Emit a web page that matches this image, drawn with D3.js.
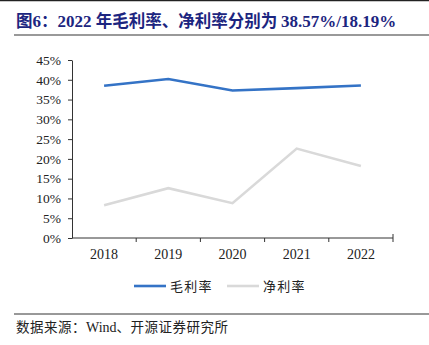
<!DOCTYPE html>
<html><head><meta charset="utf-8">
<script src="https://cdn.jsdelivr.net/npm/d3@7"></script>
<style>body{margin:0;background:#fff;} svg{display:block;}</style>
</head><body>
<svg id="c" width="429" height="345"></svg>
<script>
const years = ["2018","2019","2020","2021","2022"];
const grossMargin = [38.5, 40.2, 37.3, 37.9, 38.57];
const netMargin = [8.3, 12.6, 8.8, 22.6, 18.19];
const yTicks = [0,5,10,15,20,25,30,35,40,45];
const seriesNames = ["毛利率","净利率"];
const seriesColors = ["#3473C6","#D9D9D9"];

const svg = d3.select("#c");
const serif = "'Liberation Serif','Times New Roman',serif";
const cjk = "'Noto Sans CJK SC',sans-serif";

// top border and title
svg.append("line").attr("x1",0).attr("x2",429).attr("y1",0.5).attr("y2",0.5).attr("stroke","#222").attr("stroke-width",1.5);
svg.append("line").attr("x1",14).attr("x2",429).attr("y1",35).attr("y2",35).attr("stroke","#999").attr("stroke-width",2);
const title = svg.append("text").attr("x",16).attr("y",27).attr("fill","#1C2580").attr("font-weight","bold").attr("font-size",16.5);
title.append("tspan").attr("font-family",cjk).text("图");
title.append("tspan").attr("font-family",serif).attr("font-size",17).text("6");
title.append("tspan").attr("font-family",cjk).text("：");
title.append("tspan").attr("font-family",serif).attr("font-size",17).text("2022 ");
title.append("tspan").attr("font-family",cjk).text("年毛利率、净利率分别为 ");
title.append("tspan").attr("font-family",serif).attr("font-size",17).text("38.57%/18.19%");

const x = d3.scaleBand().domain(years).range([72,393]);
const y = d3.scaleLinear().domain([0,45]).range([238,60]);

const yAxis = svg.append("g").attr("transform","translate(72,0)")
  .call(d3.axisLeft(y).tickValues(yTicks).tickFormat(d=>d+"%").tickSize(4).tickSizeOuter(0));
const xAxis = svg.append("g").attr("transform","translate(0,238)")
  .call(d3.axisBottom(x).tickSize(4).tickSizeOuter(4));
xAxis.selectAll(".tick line").attr("transform", `translate(${x.bandwidth()/2},0)`);
[yAxis,xAxis].forEach(a=>{
  a.selectAll("path,line").attr("stroke","#333");
  a.selectAll("text").attr("font-family",serif).attr("font-size",13.5).attr("fill","#222");
});
yAxis.selectAll("text").attr("x",-11);
xAxis.selectAll("text").attr("y",11).attr("font-size",14);
xAxis.select(".domain").attr("d","M72,0H393V-4");

const line = d3.line().x((d,i)=>x(years[i])+x.bandwidth()/2).y(d=>y(d));
[grossMargin, netMargin].forEach((s,k)=>{
  svg.append("path").datum(s).attr("d",line).attr("fill","none")
    .attr("stroke",seriesColors[k]).attr("stroke-width",2.6).attr("stroke-linejoin","miter");
});

// legend
const leg = [[134,170],[227,263]];
seriesNames.forEach((n,k)=>{
  svg.append("line").attr("x1",leg[k][0]).attr("x2",leg[k][0]+32).attr("y1",286).attr("y2",286)
    .attr("stroke",seriesColors[k]).attr("stroke-width",2.6);
  svg.append("text").attr("x",leg[k][1]).attr("y",291).attr("font-family",cjk).attr("font-size",13)
    .attr("letter-spacing",1.3).attr("fill","#222").text(n);
});

// source
svg.append("line").attr("x1",14).attr("x2",429).attr("y1",314).attr("y2",314).attr("stroke","#333").attr("stroke-width",1);
const src = svg.append("text").attr("x",16).attr("y",332).attr("font-size",13.5).attr("fill","#222");
src.append("tspan").attr("font-family",cjk).attr("letter-spacing",0.5).text("数据来源：");
src.append("tspan").attr("font-family",serif).attr("font-size",14).text("Wind");
src.append("tspan").attr("font-family",cjk).attr("letter-spacing",0.5).text("、开源证券研究所");
</script>
</body></html>
